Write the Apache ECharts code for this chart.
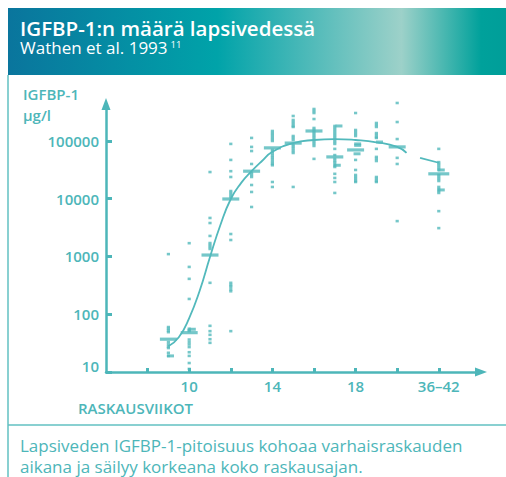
<!DOCTYPE html>
<html lang="fi">
<head>
<meta charset="UTF-8">
<title>IGFBP-1:n määrä lapsivedessä</title>
<script src="https://cdn.jsdelivr.net/npm/echarts@6.0.0/dist/echarts.min.js"></script>
<style>
    html, body { margin: 0; padding: 0; background: #ffffff; }
    #chart { width: 506px; height: 477px; }
</style>
</head>
<body>
<div id="chart"></div>
<script>
    // raskausviikot (36–42 sits at slot 22 on the axis)
    var weeks = [9, 10, 11, 12, 13, 14, 15, 16, 17, 18, 19, 20, 22];
    var tickWeeks = [8, 10, 12, 14, 16, 18, 20, 22];
    var labelWeeks = [10, 14, 18, 22];
    var yTicks = [10, 100, 1000, 10000, 100000];

    // single measurements, µg/l, one array per week column
    var w09 = [1100, 60, 56, 52, 49, 33, 30, 27.5, 26, 21.5, 19];
    var w10 = [1700, 660, 410, 184, 56, 53, 51, 36.5, 33, 30, 27, 22, 19, 14.3, 11.3];
    var w11 = [29000, 4650, 3800, 2270, 1710, 1580, 1460, 1350, 350, 63, 51, 44, 37, 32];
    var w12 = [89000, 47000, 30000, 23800, 13600, 12600, 11600, 10700, 2450, 1930, 350, 320, 300, 270, 250, 51];
    var w13 = [113000, 79000, 67000, 40000, 28000, 25800, 23800, 17300, 13100, 7200];
    var w14 = [149000, 137000, 127000, 117000, 108000, 100000, 70000, 65000, 60000, 55000, 51000, 47000, 43000, 40000, 38000, 19500, 16000];
    var w15 = [271000, 231000, 213000, 197000, 182000, 175000, 122000, 113000, 104000, 85000, 79000, 73000, 67000, 62000, 16000];
    var w16 = [358000, 330000, 305000, 240000, 168000, 155000, 143000, 132000, 122000, 113000, 104000, 96000, 89000, 82000, 49000];
    var w17 = [182000, 168000, 155000, 143000, 132000, 122000, 113000, 104000, 96000, 89000, 73000, 57000, 49000, 45000, 42000, 38000, 35500, 27000, 22900, 19500, 12600];
    var w18 = [305000, 155000, 143000, 132000, 122000, 47000, 31500, 25800, 23800, 22000, 20300, 19500];
    var w19 = [205000, 189000, 175000, 137000, 127000, 117000, 113000, 73000, 53000, 49000, 45000, 23800, 22000, 20300, 19500];
    var w20 = [455000, 213000, 108000, 51000, 40000, 4100];
    var w22 = [73000, 43000, 40000, 37000, 34000, 31500, 25800, 23800, 22000, 20300, 16000, 14700, 13600, 12600, 6100, 3100];
    var samples = [w09, w10, w11, w12, w13, w14, w15, w16, w17, w18, w19, w20, w22];

    // medians (long bars) and the short side marks next to some columns
    var medians = [[9, 37], [10, 48], [11, 1060], [12, 9900], [13, 30000], [14, 76000], [15, 92000],
        [16, 149000], [17, 53000], [18, 70000], [20, 79000], [22, 27000]];
    var sideMarks = [[9.1, 19], [10.15, 55], [17.2, 182000], [17.12, 38000], [18.1, 89000], [18.1, 84000],
        [18.07, 60000], [19.15, 96000], [22.12, 31500], [22.12, 14200]];

    // fitted curve, broken where the axis jumps to 36–42
    var curveEarly = [[9, 28], [9.5, 40], [10, 86], [10.5, 253], [11, 980], [11.5, 3510], [12, 9900],
        [12.5, 18800], [13, 30000], [13.5, 45000], [14, 65000], [15, 92000], [16, 104000], [17, 108000],
        [18, 104000], [19, 95000], [20, 79000], [20.45, 62000]];
    var curveLate = [[21.1, 51000], [22, 42000]];

    var teal = '#4db6b9';
    var mark = '#52b9bc';
    var font = '"Open Sans", "Noto Sans", sans-serif';

    var dots = [];
    weeks.forEach(function (w, i) {
        samples[i].forEach(function (v) { dots.push([w, v]); });
    });

    // where the reference number goes after the subtitle
    var subtitle = 'Wathen et al. 1993';
    var ctx = document.createElement('canvas').getContext('2d');
    ctx.font = '17px "Open Sans", "Noto Sans", sans-serif';
    var supX = 20 + ctx.measureText(subtitle).width + 3;

    var chart = echarts.init(document.getElementById('chart'), null, { renderer: 'svg' });

    chart.setOption({
        animation: false,
        grid: { left: 106, right: 25, top: 104, bottom: 105 },
        xAxis: {
            type: 'value',
            min: 6,
            max: 24.03,
            axisLine: {
                show: true,
                symbol: ['none', 'triangle'],
                symbolSize: [9, 12],
                lineStyle: { color: teal, width: 2.5 }
            },
            axisTick: {
                show: true, inside: true, length: 4,
                customValues: tickWeeks,
                lineStyle: { color: teal, width: 3 }
            },
            axisLabel: {
                customValues: labelWeeks,
                formatter: function (v) { return v === 22 ? '36–42' : String(v); },
                color: teal, fontSize: 15, fontWeight: 600, fontFamily: font, margin: 6
            },
            splitLine: { show: false }
        },
        yAxis: {
            type: 'log',
            logBase: 10,
            min: 10,
            max: 437000,
            axisLine: {
                show: true,
                symbol: ['none', 'triangle'],
                symbolSize: [9, 12],
                lineStyle: { color: teal, width: 2.5 }
            },
            axisTick: {
                show: true, inside: true, length: 6,
                customValues: yTicks,
                lineStyle: { color: teal, width: 3 }
            },
            axisLabel: {
                customValues: yTicks,
                formatter: function (v) {
                    var n = Math.round(v);
                    return n === 10 ? '{lo|10}' : String(n);
                },
                color: teal, fontSize: 15, fontWeight: 600, fontFamily: font, margin: 7,
                rich: {
                    lo: { color: teal, fontSize: 15, fontWeight: 600, fontFamily: font, padding: [0, 0, 12, 0] }
                }
            },
            splitLine: { show: false }
        },
        series: [
            {
                name: 'käyrä',
                type: 'line',
                data: curveEarly,
                smooth: true,
                symbol: 'none',
                clip: false,
                lineStyle: { color: mark, width: 1.8 }
            },
            {
                name: 'käyrä 36–42',
                type: 'line',
                data: curveLate,
                symbol: 'none',
                clip: false,
                lineStyle: { color: mark, width: 1.8 }
            },
            {
                name: 'mittaukset',
                type: 'scatter',
                data: dots,
                symbol: 'rect',
                symbolSize: [3.2, 2.6],
                clip: false,
                itemStyle: { color: mark }
            },
            {
                name: 'sivumerkit',
                type: 'scatter',
                data: sideMarks,
                symbol: 'rect',
                symbolSize: [7, 3],
                clip: false,
                itemStyle: { color: mark }
            },
            {
                name: 'mediaani',
                type: 'scatter',
                data: medians,
                symbol: 'rect',
                symbolSize: function (d) { return d[0] === 22 ? [21, 3.2] : [17, 3.2]; },
                clip: false,
                itemStyle: { color: mark }
            }
        ],
        graphic: [
            {
                type: 'rect', silent: true,
                shape: { x: 8, y: 8, width: 498, height: 67 },
                style: {
                    fill: new echarts.graphic.LinearGradient(0, 0, 1, 0, [
                        { offset: 0, color: '#0a759d' },
                        { offset: 0.42, color: '#00a3a9' },
                        { offset: 0.79, color: '#9dd1c9' },
                        { offset: 0.95, color: '#00a19b' },
                        { offset: 1, color: '#009e99' }
                    ])
                }
            },
            { type: 'line', silent: true, shape: { x1: 8, y1: 75, x2: 8, y2: 477 }, style: { stroke: '#62c0c2', lineWidth: 1.5 } },
            { type: 'line', silent: true, shape: { x1: 8, y1: 425, x2: 506, y2: 425 }, style: { stroke: '#62c0c2', lineWidth: 1.5 } },
            {
                type: 'text', x: 20, y: 28,
                style: { text: 'IGFBP-1:n määrä lapsivedessä', fill: '#ffffff', fontSize: 20.5, lineHeight: 18, fontWeight: 600, fontFamily: font, verticalAlign: 'middle' }
            },
            {
                type: 'text', x: 20, y: 47.5,
                style: { text: subtitle, fill: '#ffffff', fontSize: 17, lineHeight: 16, fontFamily: font, verticalAlign: 'middle' }
            },
            {
                type: 'text', x: supX, y: 44,
                style: { text: '11', fill: '#ffffff', fontSize: 9.5, lineHeight: 9, fontFamily: font, verticalAlign: 'middle' }
            },
            {
                type: 'text', x: 23, y: 94,
                style: { text: 'IGFBP-1', fill: teal, fontSize: 15, fontWeight: 600, fontFamily: font, verticalAlign: 'middle' }
            },
            {
                type: 'text', x: 23, y: 115,
                style: { text: 'µg/l', fill: teal, fontSize: 15, fontWeight: 600, fontFamily: font, verticalAlign: 'middle' }
            },
            {
                type: 'text', x: 135.5, y: 408,
                style: { text: 'RASKAUSVIIKOT', fill: teal, fontSize: 15, fontWeight: 600, fontFamily: font, align: 'center', verticalAlign: 'middle' }
            },
            {
                type: 'text', x: 20, y: 445,
                style: { text: 'Lapsiveden IGFBP-1-pitoisuus kohoaa varhaisraskauden', fill: teal, fontSize: 17, fontFamily: font, verticalAlign: 'middle' }
            },
            {
                type: 'text', x: 20, y: 466.5,
                style: { text: 'aikana ja säilyy korkeana koko raskausajan.', fill: teal, fontSize: 17, fontFamily: font, verticalAlign: 'middle' }
            }
        ]
    });
</script>
</body>
</html>
